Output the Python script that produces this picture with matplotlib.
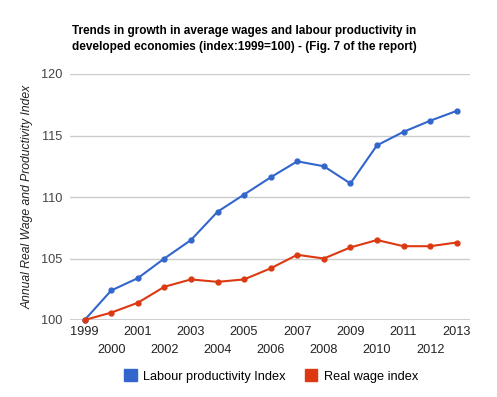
import matplotlib
matplotlib.use('Agg')
import matplotlib.pyplot as plt
from matplotlib.patches import Patch

plt.rcParams['font.family'] = ['Liberation Sans', 'DejaVu Sans']

years = list(range(1999, 2014))
productivity = [100, 102.4, 103.4, 105.0, 106.5, 108.8, 110.2, 111.6,
                112.9, 112.5, 111.1, 114.2, 115.3, 116.2, 117.0]
real_wage = [100, 100.6, 101.4, 102.7, 103.3, 103.1, 103.3, 104.2,
             105.3, 105.0, 105.9, 106.5, 106.0, 106.0, 106.3]
series_labels = ['Labour productivity Index', 'Real wage index']
colors = ['#3366cc', '#dc3912']

fig = plt.figure(figsize=(4.97, 3.97), dpi=100)
ax = fig.add_axes([70 / 497, 1 - 320 / 397, 400 / 497, 246 / 397])

for vals, c, lab in zip([productivity, real_wage], colors, series_labels):
    ax.plot(years, vals, color=c, linewidth=1.5, marker='o', markersize=3.5,
            label=lab, zorder=3, clip_on=False)

ax.set_xlim(1998.45, 2013.5)
ax.set_ylim(100, 120)
ax.set_yticks([100, 105, 110, 115, 120])
ax.grid(axis='y', color='#cccccc', linewidth=1)
ax.set_axisbelow(True)
ax.axhline(100, color='#333333', linewidth=1, zorder=2)

# staggered year labels: odd years on top row, even years below
ax.set_xticks([y for y in years if y % 2 == 1])
ax.set_xticks([y for y in years if y % 2 == 0], minor=True)
ax.set_xticklabels([str(y) for y in years if y % 2 == 1])
ax.set_xticklabels([str(y) for y in years if y % 2 == 0], minor=True)
ax.tick_params(axis='x', which='major', length=0, pad=4, labelsize=9.2, labelcolor='#222222')
ax.tick_params(axis='x', which='minor', length=0, pad=17, labelsize=9.2, labelcolor='#222222')
ax.tick_params(axis='y', length=0, pad=5.5, labelsize=9.2, labelcolor='#444444')

for s in ax.spines.values():
    s.set_visible(False)

ax.set_ylabel('Annual Real Wage and Productivity Index', fontstyle='italic',
              fontsize=8.7, color='#222222', labelpad=5)

fig.text(72 / 497, 1 - 25 / 397,
         'Trends in growth in average wages and labour productivity in\n'
         'developed economies (index:1999=100) - (Fig. 7 of the report)',
         fontsize=8.5, fontweight='bold', va='top', ha='left', color='#000000',
         linespacing=1.45)

handles = [Patch(facecolor=c, edgecolor=c) for c in colors]
fig.legend(handles, series_labels, loc='center', bbox_to_anchor=(271 / 497, 1 - 376 / 397),
           ncol=2, frameon=False, fontsize=9.2, handlelength=1.0, handleheight=1.0,
           handletextpad=0.5, columnspacing=1.5)

fig.savefig('out.png', dpi=100)
